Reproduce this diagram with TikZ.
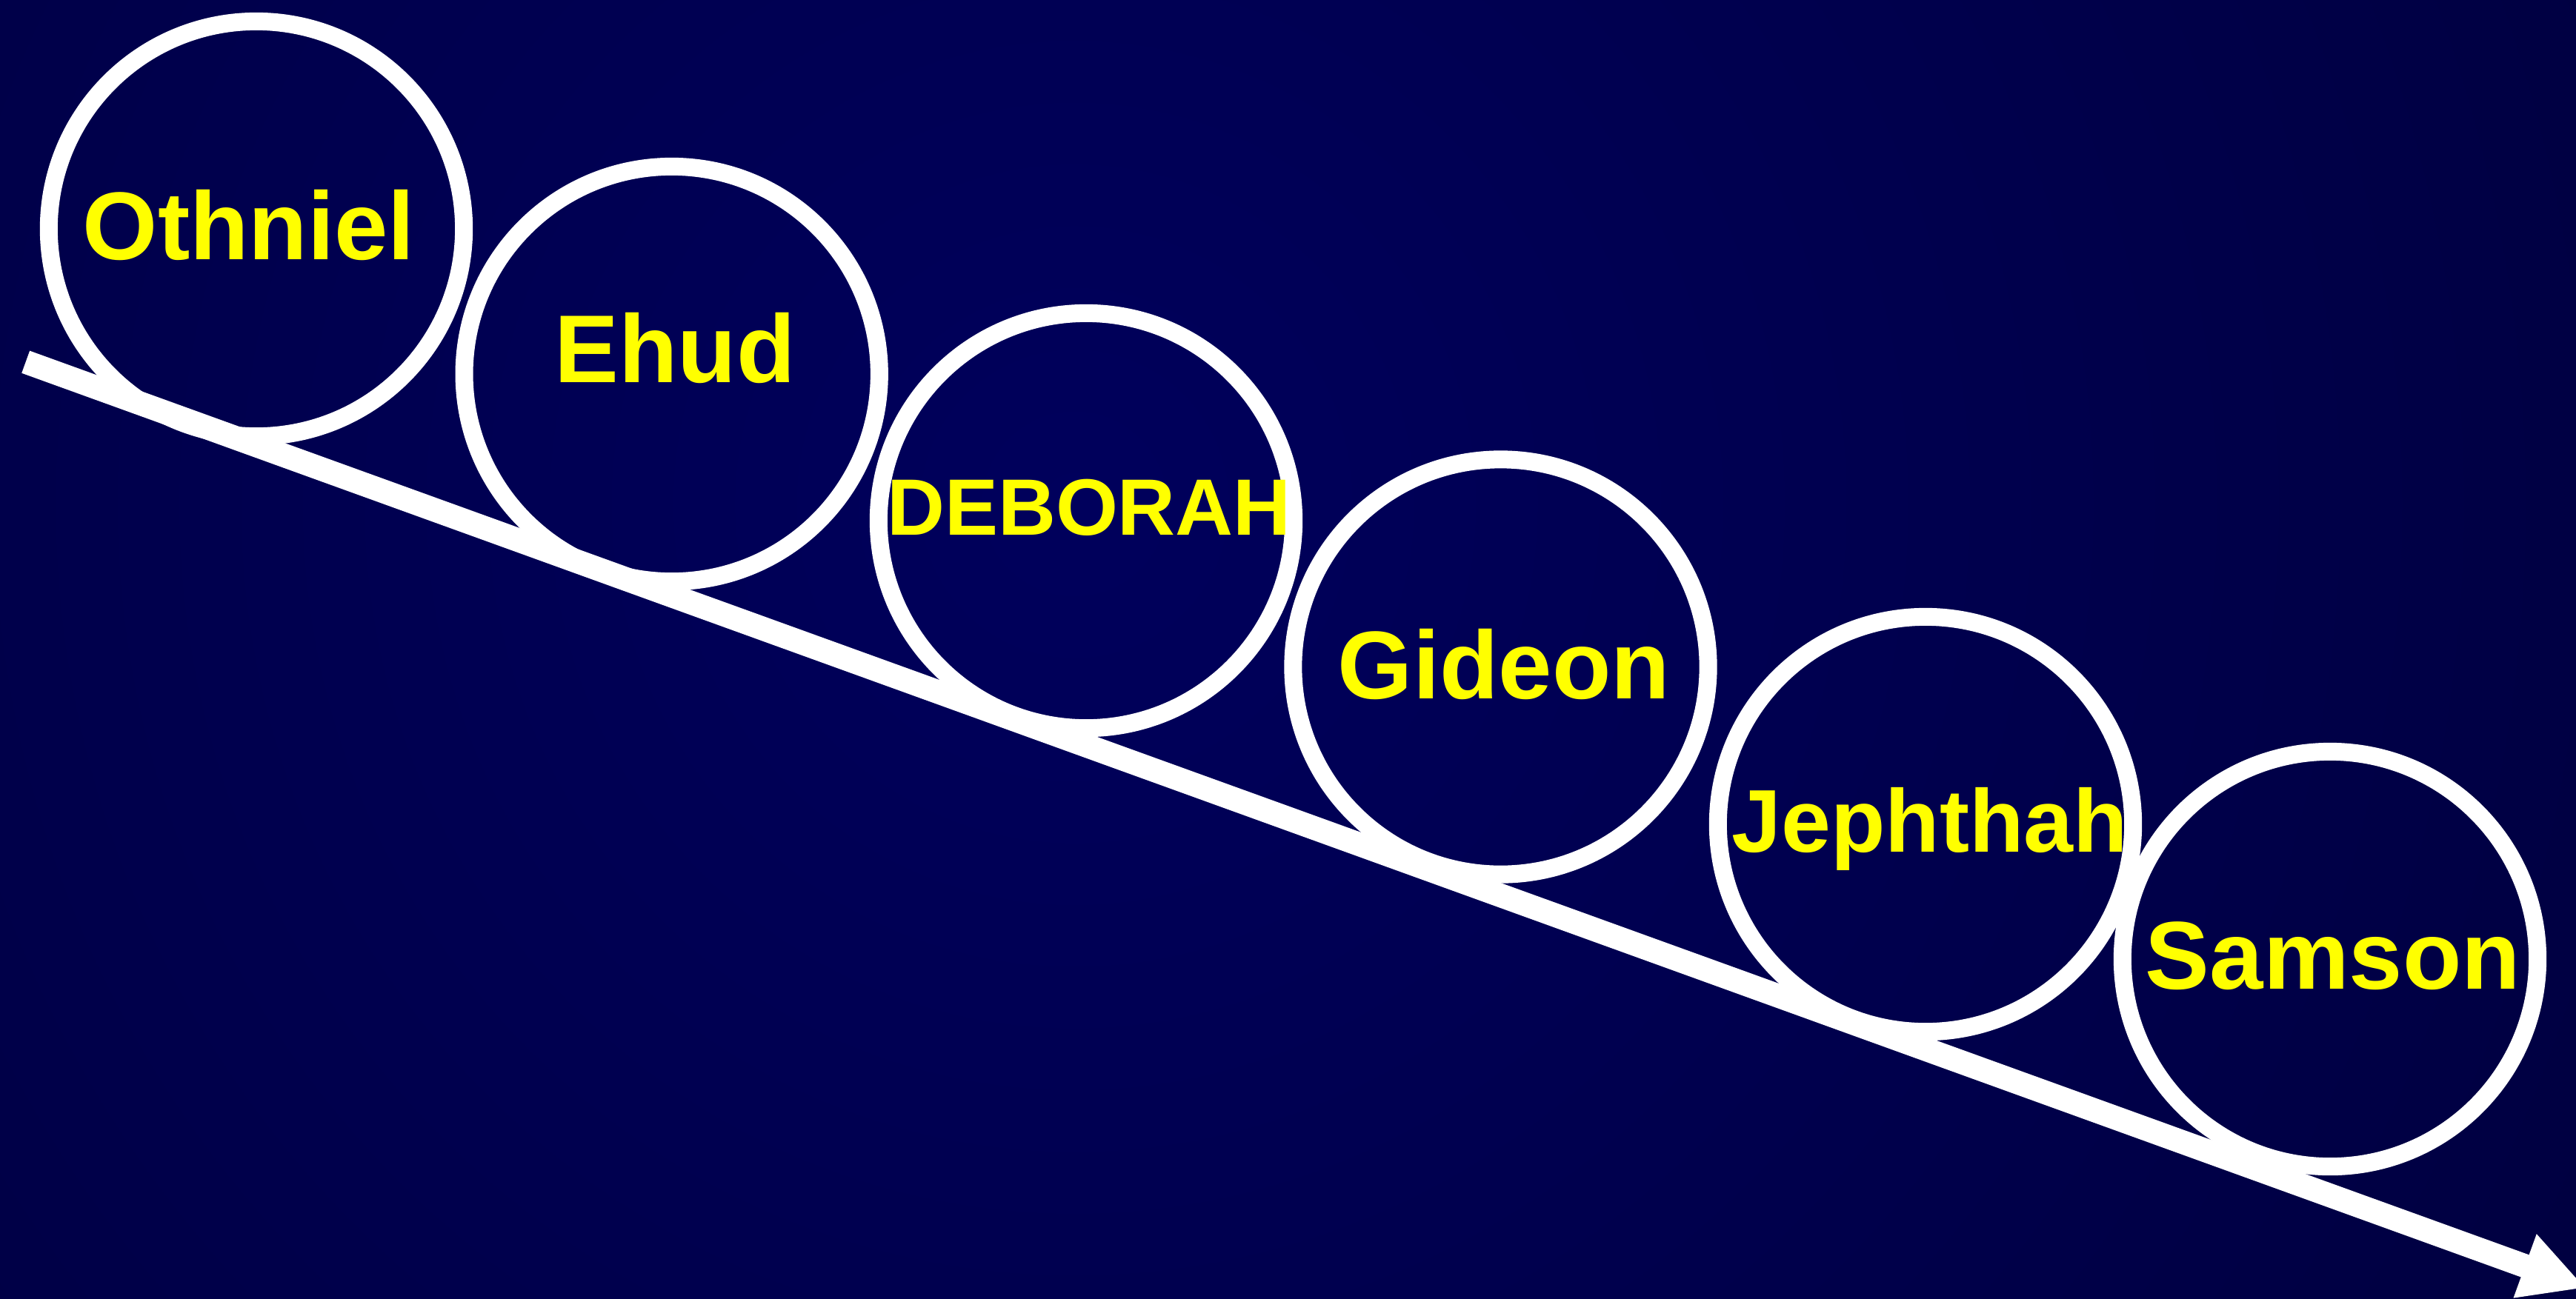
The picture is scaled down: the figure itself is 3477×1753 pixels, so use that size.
\documentclass[tikz,border=0pt]{standalone}
\usepackage{fontspec}
\setmainfont{Liberation Sans}
\usetikzlibrary{arrows.meta}
\definecolor{navyin}{RGB}{0,0,92}
\definecolor{navyout}{RGB}{0,0,44}
\definecolor{judgeyellow}{RGB}{255,255,0}
\tikzset{
  judge/.style={draw=white, line width=0.24cm, circle, minimum size=5.6cm, inner sep=0pt},
  judgename/.style={text=judgeyellow, font=\bfseries\fontsize{37}{44}\selectfont, anchor=base, inner sep=0pt},
  timeline/.style={draw=white, line width=0.32cm, -{Triangle[width=0.85cm,length=0.87cm]}}
}
\begin{document}
\begin{tikzpicture}[x=0.01cm,y=-0.01cm]
		%Background
		\useasboundingbox (0,0) rectangle (3477,1753);
		\clip (0,0) rectangle (3477,1753);
		\fill[navyout] (0,0) rectangle (3477,1753);
		\shade[inner color=navyin, outer color=navyout] (1450,680) circle (4000);
		%Time line
		\coordinate (start) at (34.7,488.7);
		\coordinate (finish) at (3490,1739);
		\draw[timeline] (start) -- (finish);
		%Judges
		\node[judge] (othniel) at (346,309) {};
		\node[judge] (ehud) at (906.7,505) {};
		\node[judge] (deborah) at (1466,703) {};
		\node[judge] (gideon) at (2025.5,900.5) {};
		\node[judge] (jephthah) at (2599,1113) {};
		\node[judge] (samson) at (3145,1295) {};
		\node[judgename] (othnielname) at (336,350) {Othniel};
		\node[judgename] (ehudname) at (911,516) {Ehud};
		\node[judgename, font=\bfseries\fontsize{30.7}{36}\selectfont] (deborahname) at (1470,722) {DEBORAH};
		\node[judgename] (gideonname) at (2030,943) {Gideon};
		\node[judgename, font=\bfseries\fontsize{34.2}{41}\selectfont] (jephthahname) at (2605,1150) {Jephthah};
		\node[judgename] (samsonname) at (3149,1335) {Samson};
\end{tikzpicture}
\end{document}
